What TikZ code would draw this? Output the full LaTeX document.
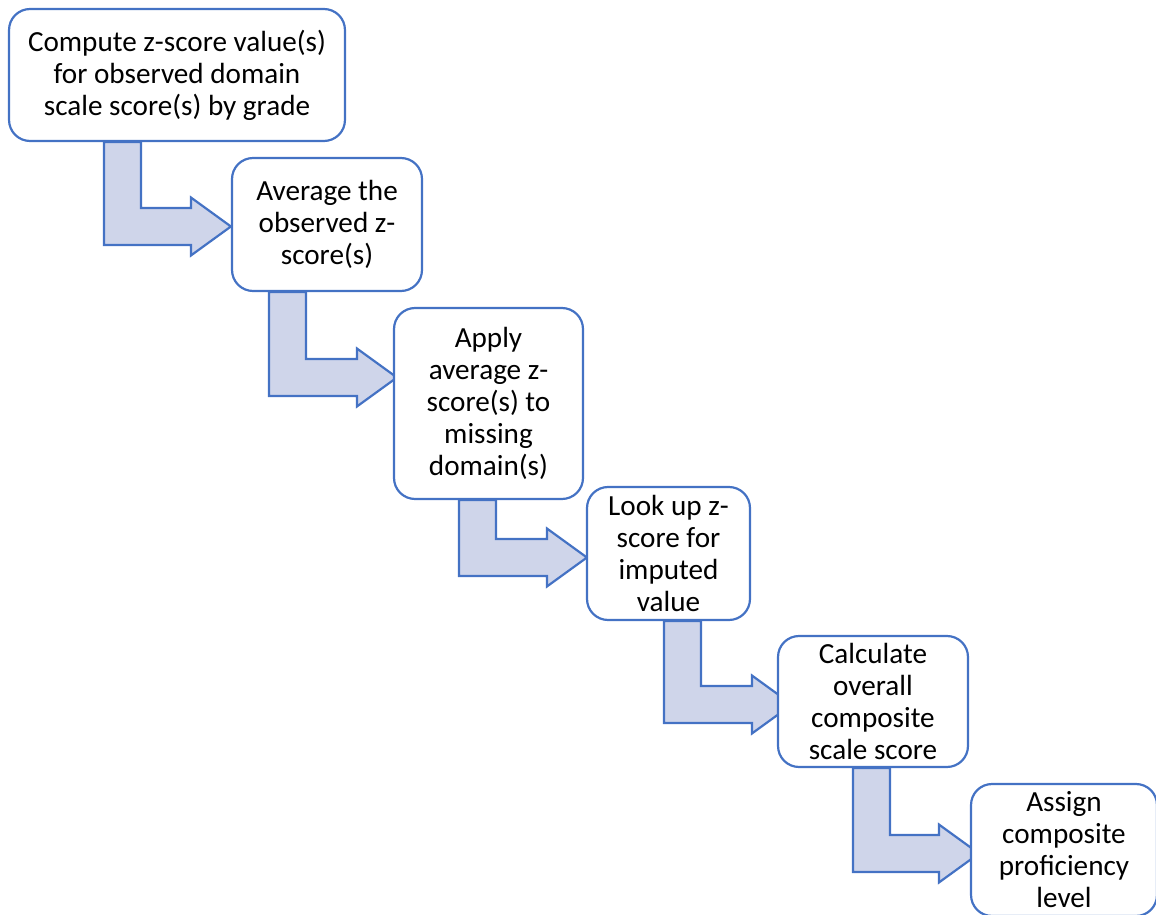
\documentclass[tikz,border=0pt]{standalone}
\usepackage{fontspec}
\setmainfont{Carlito}
\usetikzlibrary{calc}
\usetikzlibrary{backgrounds}
\definecolor{boxblue}{HTML}{4472C4}
\definecolor{arrowfill}{HTML}{CFD5EA}
\tikzset{
  stepbox/.style={draw=boxblue, fill=white, line width=1.25pt, rounded corners=0.42cm, align=center, inner sep=2pt},
  steparrow/.style={draw=boxblue, fill=arrowfill, line width=1.25pt, line join=miter}
}
% from node, to node, shaft left x, shaft top y, gap of arrow head to target
\newcommand{\steparrow}[5]{%
  \coordinate (hb) at ($(#2.west |- 0,#4)+(-#5,0)$);
  \filldraw[steparrow] (#3,0 |- #1.south) -- ++(37,0) -- (#3+37,#4) -- (hb) -- ++(0,-10.5) -- ($(hb)+(40,18.5)$) -- ($(hb)+(0,47.5)$) -- ++(0,-10.5) -- (#3,#4+37) -- cycle;
}

\begin{document}
\begin{tikzpicture}[x=0.02cm, y=-0.02cm, font=\fontsize{16.6}{18.2}\selectfont]
\useasboundingbox (0,0) rectangle (1156,915);

\node (b1) [stepbox, minimum width=6.72cm, minimum height=2.64cm] at (177,75) {Compute z-score value(s)\\for observed domain\\scale score(s) by grade};
\node (b2) [stepbox, minimum width=3.8cm, minimum height=2.66cm] at (327,224.5) {Average the\\observed z-\\score(s)};
\node (b3) [stepbox, minimum width=3.78cm, minimum height=3.82cm] at (488.5,403.5) {Apply\\average z-\\score(s) to\\missing\\domain(s)};
\node (b4) [stepbox, minimum width=3.26cm, minimum height=2.66cm] at (668.5,553.5) {Look up z-\\score for\\imputed\\value};
\node (b5) [stepbox, minimum width=3.8cm, minimum height=2.62cm] at (873,701.5) {Calculate\\overall\\composite\\scale score};
\node (b6) [stepbox, minimum width=3.72cm, minimum height=2.64cm] at (1064,850) {Assign\\composite\\proficiency\\level};

\begin{scope}[on background layer]
\steparrow{b1}{b2}{104}{208}{40}
\steparrow{b2}{b3}{269}{359}{36}
\steparrow{b3}{b4}{459}{539}{39}
\steparrow{b4}{b5}{664}{686}{25}
\steparrow{b5}{b6}{853}{835}{31}
\end{scope}
\end{tikzpicture}
\end{document}
